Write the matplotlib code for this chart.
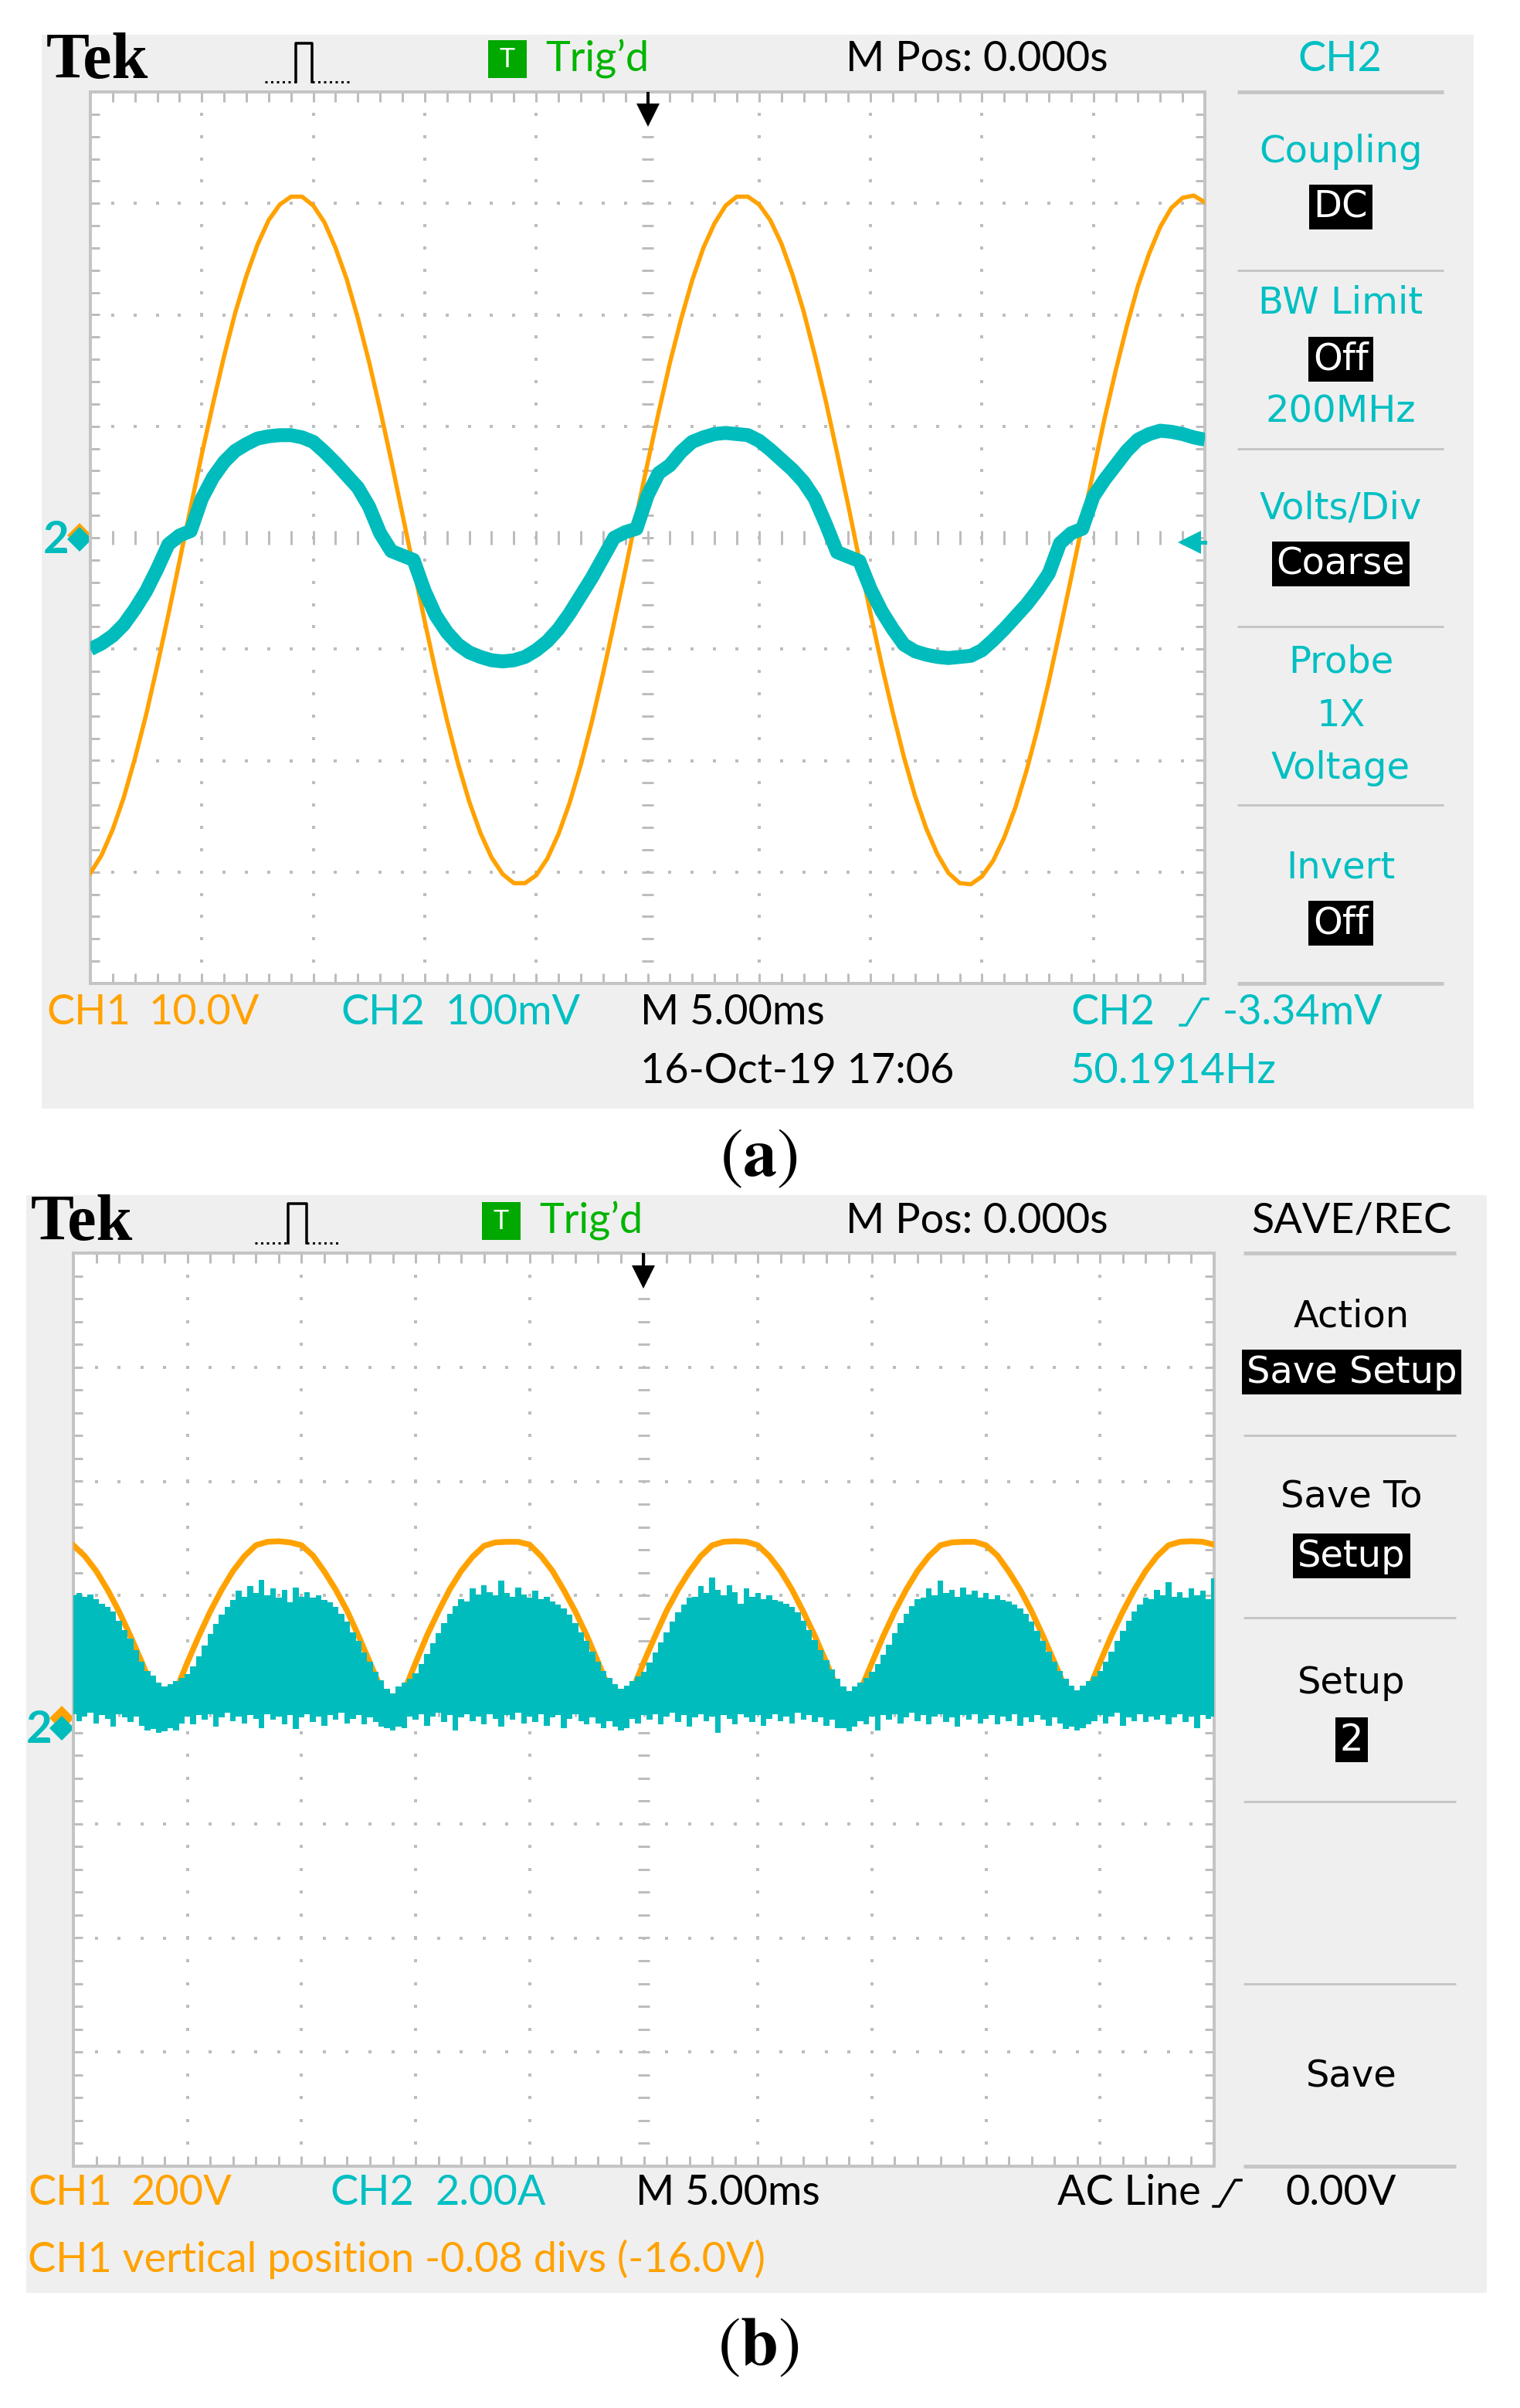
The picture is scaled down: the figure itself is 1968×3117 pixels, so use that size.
import numpy as np
import matplotlib.pyplot as plt
from matplotlib import font_manager as fm
from matplotlib.patches import Rectangle

W, H, DPI = 1968, 3117, 100
plt.rcParams['mathtext.fontset'] = 'stix'

# ---------------- data read off the two screen shots ----------------
# (a)  M 5.00 ms/div, CH1 10.0 V/div, CH2 100 mV/div
t_a = np.linspace(-25, 25, 101)          # ms, one sample every 0.1 div
ch1_a = [-30.1, -28.5, -26.2, -23.3, -19.8, -15.9, -11.5, -6.9, -2.1, 2.7,
         7.5, 12.0, 16.3, 20.2, 23.5, 26.3, 28.5, 29.9, 30.6, 30.6,
         29.8, 28.3, 26.0, 23.2, 19.7, 15.8, 11.5, 6.9, 2.1, -2.7,
         -7.5, -12.1, -16.4, -20.3, -23.7, -26.5, -28.7, -30.2, -31.0, -31.0,
         -30.3, -28.8, -26.6, -23.8, -20.4, -16.5, -12.2, -7.6, -2.9, 2.0,
         6.7, 11.3, 15.7, 19.6, 23.1, 26.0, 28.2, 29.8, 30.6, 30.6,
         29.9, 28.5, 26.4, 23.6, 20.3, 16.4, 12.2, 7.6, 2.9, -2.0,
         -6.8, -11.4, -15.7, -19.7, -23.2, -26.1, -28.4, -30.1, -31.0, -31.1,
         -30.4, -29.0, -26.9, -24.2, -20.9, -17.1, -12.9, -8.3, -3.6, 1.2,
         6.0, 10.7, 15.0, 19.0, 22.6, 25.5, 27.9, 29.6, 30.5, 30.7,
         30.1]                               # V
ch2_a = [-100, -95, -88, -78, -64, -48, -28, -6, 2, 6,
         35, 54, 68, 78, 84, 89, 91, 92, 92, 90,
         86, 77, 67, 56, 45, 28, 4, -12, -16, -20,
         -48, -70, -85, -96, -103, -107, -110, -111, -110, -107,
         -101, -93, -82, -68, -52, -36, -18, 0, 5, 8,
         38, 58, 65, 77, 86, 90, 93, 94, 93, 92,
         87, 79, 70, 61, 50, 35, 12, -13, -17, -21,
         -46, -66, -82, -96, -102, -105, -107, -108, -107, -106,
         -101, -92, -82, -71, -60, -47, -32, -5, 4, 8,
         37, 52, 65, 78, 88, 93, 96, 95, 93, 90,
         88]                                 # mV

# (b)  M 5.00 ms/div, CH1 200 V/div (position -0.08 div), CH2 2.00 A/div
t_b = np.linspace(-25, 25, 101)
ch1_b = [304, 285, 259, 226, 188, 145, 99, 50, 0, 50,
         99, 145, 188, 226, 259, 285, 304, 310, 311, 309,
         304, 286, 258, 226, 189, 145, 98, 51, 1, 49,
         98, 146, 188, 227, 259, 284, 303, 309, 310, 310,
         305, 285, 259, 225, 188, 146, 99, 50, 0, 50,
         99, 145, 189, 226, 258, 285, 304, 310, 311, 310,
         304, 285, 259, 226, 187, 145, 99, 50, 1, 50,
         98, 145, 188, 226, 259, 285, 304, 309, 310, 310,
         304, 286, 258, 226, 188, 145, 99, 51, 0, 50,
         99, 146, 188, 226, 259, 285, 304, 310, 311, 310,
         305]                                # V
t_b_fine = np.linspace(-25, 25, 201)     # one sample every 0.05 div
ch2_b_top = [2.30, 2.34, 2.28, 2.32, 2.24, 2.16, 2.10, 2.02, 1.86, 1.70,
             1.54, 1.34, 1.14, 0.98, 0.90, 0.78, 0.70, 0.74, 0.80, 0.86,
             0.92, 1.06, 1.24, 1.42, 1.62, 1.80, 1.96, 2.10, 2.22, 2.38,
             2.28, 2.46, 2.34, 2.58, 2.30, 2.42, 2.26, 2.40, 2.18, 2.44,
             2.28, 2.36, 2.26, 2.30, 2.22, 2.18, 2.10, 1.98, 1.84, 1.66,
             1.50, 1.30, 1.14, 0.96, 0.82, 0.66, 0.58, 0.70, 0.78, 0.84,
             0.94, 1.10, 1.28, 1.46, 1.64, 1.82, 1.98, 2.12, 2.24, 2.20,
             2.42, 2.32, 2.48, 2.36, 2.30, 2.56, 2.34, 2.28, 2.44, 2.32,
             2.26, 2.38, 2.24, 2.28, 2.20, 2.14, 2.08, 1.96, 1.82, 1.66,
             1.50, 1.32, 1.14, 0.98, 0.86, 0.74, 0.66, 0.72, 0.80, 0.88,
             0.96, 1.12, 1.30, 1.48, 1.66, 1.84, 2.00, 2.14, 2.26, 2.28,
             2.46, 2.34, 2.62, 2.40, 2.30, 2.48, 2.36, 2.16, 2.42, 2.28,
             2.34, 2.24, 2.30, 2.22, 2.20, 2.16, 2.10, 2.00, 1.86, 1.70,
             1.52, 1.34, 1.16, 1.00, 0.84, 0.70, 0.62, 0.70, 0.78, 0.86,
             0.96, 1.10, 1.26, 1.44, 1.64, 1.82, 1.98, 2.12, 2.24, 2.26,
             2.42, 2.30, 2.56, 2.34, 2.40, 2.28, 2.44, 2.32, 2.38, 2.26,
             2.34, 2.24, 2.30, 2.22, 2.20, 2.14, 2.08, 1.98, 1.84, 1.68,
             1.50, 1.32, 1.14, 0.98, 0.84, 0.72, 0.64, 0.72, 0.80, 0.88,
             0.98, 1.14, 1.32, 1.50, 1.68, 1.86, 2.02, 2.14, 2.26, 2.24,
             2.40, 2.30, 2.54, 2.28, 2.36, 2.26, 2.42, 2.30, 2.38, 2.24,
             2.60]                           # A, upper edge of the noisy band
ch2_b_bot = [0.22, 0.10, 0.18, 0.24, 0.06, 0.20, 0.14, 0.00, 0.22, 0.16,
             0.08, 0.18, 0.02, -0.06, -0.04, -0.10, -0.08, -0.02, -0.06, 0.06,
             0.18, 0.04, 0.20, 0.12, 0.22, 0.00, 0.16, 0.24, 0.10, 0.18,
             0.06, 0.20, 0.14, -0.02, 0.22, 0.12, 0.18, 0.04, 0.20, -0.04,
             0.16, 0.22, 0.08, 0.18, 0.02, 0.20, 0.12, 0.24, 0.06, 0.14,
             0.20, 0.04, 0.16, 0.08, 0.00, -0.02, -0.06, 0.00, -0.02, 0.18,
             0.12, 0.22, 0.02, 0.18, 0.24, 0.08, 0.20, -0.06, 0.16, 0.22,
             0.10, 0.18, 0.04, 0.22, 0.14, 0.00, 0.20, 0.12, 0.24, 0.06,
             0.18, 0.08, 0.22, 0.02, 0.16, 0.20, -0.02, 0.14, 0.22, 0.10,
             0.04, 0.16, 0.06, -0.02, 0.10, 0.00, -0.06, -0.02, 0.14, 0.06,
             0.20, 0.12, 0.22, 0.04, 0.18, 0.24, 0.08, 0.20, 0.00, 0.16,
             0.22, 0.10, 0.18, -0.10, 0.20, 0.14, 0.04, 0.22, 0.16, 0.08,
             0.20, 0.02, 0.14, 0.22, 0.10, 0.18, 0.06, 0.24, 0.12, 0.20,
             0.08, 0.16, 0.02, 0.12, -0.02, -0.02, -0.08, 0.00, 0.10, 0.04,
             0.18, -0.06, 0.20, 0.12, 0.22, 0.06, 0.16, 0.24, 0.10, 0.20,
             0.04, 0.18, 0.22, 0.08, 0.16, 0.00, 0.20, 0.12, 0.22, 0.06,
             0.14, 0.20, 0.04, 0.18, 0.10, 0.22, 0.02, 0.16, 0.08, 0.20,
             0.12, 0.02, 0.16, 0.06, -0.04, 0.00, -0.06, -0.02, 0.04, 0.10,
             0.20, 0.06, 0.18, 0.24, 0.02, 0.16, 0.10, 0.22, 0.08, 0.18,
             0.12, 0.20, 0.04, 0.16, 0.22, 0.08, 0.18, -0.02, 0.20, 0.14,
             0.18]                           # A, lower edge

MS_DIV = 5.0
CH1A_DIV, CH2A_DIV = 10.0, 100.0
CH1B_DIV, CH1B_POS = 200.0, -0.08
CH2B_DIV, CH2B_POS = 2.0, -0.15

# ---------------- style ----------------
ORANGE = '#ffa200'
TEAL = '#00bcbc'
TEAL_TXT = '#00bfc2'
GREEN = '#00b400'
PANEL = '#efefef'
GRID = '#bdbdbd'
BORDER = '#c4c4c4'


def px(v):
    return v * 72.0 / DPI


def has_font(name):
    try:
        fm.findfont(fm.FontProperties(family=name), fallback_to_default=False)
        return True
    except ValueError:
        return False


if has_font('Liberation Sans Narrow'):
    NARROW, NSZ = 'Liberation Sans Narrow', px(64)
else:
    NARROW, NSZ = 'Lato', px(54)
MENU, MSZ = 'DejaVu Sans', px(48)

fig = plt.figure(figsize=(W / DPI, H / DPI), dpi=DPI)
bg = fig.add_axes([0, 0, 1, 1])
bg.set_xlim(0, W)
bg.set_ylim(H, 0)
bg.axis('off')


def txt(x, y, s, color='black', size=NSZ, family=NARROW, ha='left', **kw):
    bg.text(x, y, s, color=color, fontsize=size, family=family, ha=ha,
            va='center', **kw)


def boxed(x, y, s, size=MSZ):
    bg.text(x, y, s, color='white', fontsize=size, family=MENU, ha='center',
            va='center', bbox=dict(facecolor='black', edgecolor='none',
                                   boxstyle='square,pad=0.12'))


def scope_axes(l, t, r, b):
    ax = fig.add_axes([l / W, 1 - b / H, (r - l) / W, (b - t) / H])
    ax.set_xlim(-5, 5)
    ax.set_ylim(-4, 4)
    ax.set_xticks([])
    ax.set_yticks([])
    for s in ax.spines.values():
        s.set_color(BORDER)
        s.set_linewidth(px(4))
    mx = np.arange(-5, 5.001, 0.2)
    my = np.arange(-4, 4.001, 0.2)
    for xv in [-4, -3, -2, -1, 1, 2, 3, 4]:
        ax.plot(np.full(my.size, xv), my, ls='none', marker='s', ms=px(3.5),
                mew=0, color=GRID, zorder=1)
    for yv in [-3, -2, -1, 1, 2, 3]:
        ax.plot(mx, np.full(mx.size, yv), ls='none', marker='s', ms=px(3.5),
                mew=0, color=GRID, zorder=1)
    kw = dict(color=GRID, lw=px(3), zorder=1)
    ax.vlines(mx, -0.06, 0.06, **kw)
    ax.hlines(my, -0.05, 0.05, **kw)
    ax.vlines(mx, 3.91, 4, **kw)
    ax.vlines(mx, -4, -3.91, **kw)
    ax.hlines(my, -5, -4.92, **kw)
    ax.hlines(my, 4.92, 5, **kw)
    return ax


def header(y, tek_x, pulse, box_x, trig_x, right_txt, right_col, right_x):
    txt(tek_x, y + 4, 'Tek', family='Liberation Serif', size=px(84),
        weight='bold')
    x0, x1, x2, x3, top, bot = pulse
    bg.plot([x0, x1], [bot, bot], color='k', lw=px(3), ls=(0, (1, 1.5)))
    bg.plot([x1, x1, x2, x2], [bot, top, top, bot], color='k', lw=px(3.5))
    bg.plot([x2, x3], [bot, bot], color='k', lw=px(3), ls=(0, (1, 1.5)))
    bg.add_patch(Rectangle((box_x, y - 24), 50, 49, color='#00a800', lw=0))
    txt(box_x + 25, y + 1, 'T', color='white', size=px(34), ha='center')
    txt(trig_x, y, 'Trig\u2019d', color=GREEN)
    txt(1095, y, 'M Pos: 0.000s')
    txt(right_x, y, right_txt, color=right_col, ha='center')


def menu_lines(x0, x1, ys):
    for i, yy in enumerate(ys):
        lw = 5 if i in (0, len(ys) - 1) else 3
        bg.plot([x0, x1], [yy, yy], color='#c6c6c6', lw=px(lw),
                solid_capstyle='butt')


def slope(x, y, color):
    bg.plot([x, x + 8, x + 28, x + 36], [y + 17, y + 17, y - 17, y - 17],
            color=color, lw=px(3.5))


def trig_arrow(ax, tip):
    ax.plot([0, 0], [4, tip + 0.12], color='k', lw=px(4), zorder=6)
    ax.plot(0, tip + 0.09, marker='v', ms=px(30), color='k', mew=0, zorder=6)


# ================= panel (a) =================
bg.add_patch(Rectangle((54, 45), 1854, 1390, color=PANEL, lw=0))
header(76, 60, (343, 383, 404, 452, 56, 106), 632, 706, 'CH2', TEAL_TXT, 1735)

ax_a = scope_axes(117, 119, 1560, 1273)
ax_a.plot(t_a / MS_DIV, np.array(ch1_a) / CH1A_DIV, color=ORANGE,
          lw=px(5.5), zorder=3)
ax_a.plot(t_a / MS_DIV, np.array(ch2_a) / CH2A_DIV, color=TEAL, lw=px(18),
          zorder=4, solid_joinstyle='round', solid_capstyle='butt')
trig_arrow(ax_a, 3.70)
ax_a.plot([4.84, 5.0], [-0.04, -0.04], color=TEAL, lw=px(5), zorder=6,
          clip_on=False)
ax_a.plot(4.86, -0.04, marker='<', ms=px(30), color=TEAL, mew=0, zorder=6,
          clip_on=False)

# channel ground markers (CH1 marker sits just behind the CH2 one)
bg.plot(103, 693, marker='D', ms=px(22), color=ORANGE, mew=0)
txt(73, 700, '2', color=TEAL, size=px(58), ha='center', weight='bold')
bg.plot(103, 698, marker='D', ms=px(22), color=TEAL, mew=0)

# right menu
menu_lines(1602, 1869, [119, 350, 581, 811, 1042, 1273])
mx_a = 1736
txt(mx_a, 197, 'Coupling', color=TEAL_TXT, size=MSZ, family=MENU, ha='center')
boxed(mx_a, 268, 'DC')
txt(mx_a, 392, 'BW Limit', color=TEAL_TXT, size=MSZ, family=MENU, ha='center')
boxed(mx_a, 465, 'Off')
txt(mx_a, 533, '200MHz', color=TEAL_TXT, size=MSZ, family=MENU, ha='center')
txt(mx_a, 658, 'Volts/Div', color=TEAL_TXT, size=MSZ, family=MENU, ha='center')
boxed(mx_a, 730, 'Coarse')
txt(mx_a, 857, 'Probe', color=TEAL_TXT, size=MSZ, family=MENU, ha='center')
txt(mx_a, 926, '1X', color=TEAL_TXT, size=MSZ, family=MENU, ha='center')
txt(mx_a, 994, 'Voltage', color=TEAL_TXT, size=MSZ, family=MENU, ha='center')
txt(mx_a, 1123, 'Invert', color=TEAL_TXT, size=MSZ, family=MENU, ha='center')
boxed(mx_a, 1195, 'Off')

# bottom status
txt(60, 1310, 'CH1', color=ORANGE)
txt(193, 1310, '10.0V', color=ORANGE)
txt(441, 1310, 'CH2', color=TEAL_TXT)
txt(577, 1310, '100mV', color=TEAL_TXT)
txt(829, 1310, 'M 5.00ms')
txt(1386, 1310, 'CH2', color=TEAL_TXT)
slope(1528, 1310, TEAL_TXT)
txt(1790, 1310, '-3.34mV', color=TEAL_TXT, ha='right')
txt(829, 1386, '16-Oct-19 17:06')
txt(1386, 1386, '50.1914Hz', color=TEAL_TXT)

bg.text(982, 1501, r'($\mathbf{a}$)', fontsize=px(88), family='STIXGeneral',
        ha='center', va='center')

# ================= panel (b) =================
bg.add_patch(Rectangle((34, 1547), 1891, 1421, color=PANEL, lw=0))
header(1580, 40, (330, 373, 397, 440, 1558, 1609), 624, 698, 'SAVE/REC',
       'black', 1750)

ax_b = scope_axes(95, 1622, 1572, 2804)
ax_b.plot(t_b / MS_DIV, np.array(ch1_b) / CH1B_DIV + CH1B_POS, color=ORANGE,
          lw=px(7.5), zorder=3)
ax_b.fill_between(t_b_fine / MS_DIV,
                  np.array(ch2_b_bot) / CH2B_DIV + CH2B_POS,
                  np.array(ch2_b_top) / CH2B_DIV + CH2B_POS,
                  step='mid', color=TEAL, lw=0, zorder=4)
trig_arrow(ax_b, 3.70)

bg.plot(80, 2224, marker='D', ms=px(22), color=ORANGE, mew=0)
txt(51, 2239, '2', color=TEAL, size=px(58), ha='center', weight='bold')
bg.plot(80, 2237, marker='D', ms=px(22), color=TEAL, mew=0)

menu_lines(1610, 1885, [1622, 1858, 2094, 2332, 2568, 2804])
mx_b = 1750
txt(mx_b, 1704, 'Action', size=MSZ, family=MENU, ha='center')
boxed(mx_b, 1776, 'Save Setup')
txt(mx_b, 1938, 'Save To', size=MSZ, family=MENU, ha='center')
boxed(mx_b, 2014, 'Setup')
txt(mx_b, 2179, 'Setup', size=MSZ, family=MENU, ha='center')
boxed(mx_b, 2252, '2')
txt(mx_b, 2688, 'Save', size=MSZ, family=MENU, ha='center')

txt(36, 2839, 'CH1', color=ORANGE)
txt(169, 2839, '200V', color=ORANGE)
txt(427, 2839, 'CH2', color=TEAL_TXT)
txt(563, 2839, '2.00A', color=TEAL_TXT)
txt(823, 2839, 'M 5.00ms')
txt(1555, 2839, 'AC Line', ha='right')
slope(1571, 2839, 'black')
txt(1808, 2839, '0.00V', ha='right')
txt(36, 2924, 'CH1 vertical position -0.08 divs (-16.0V)', color=ORANGE)

bg.text(982, 3040, r'($\mathbf{b}$)', fontsize=px(88), family='STIXGeneral',
        ha='center', va='center')

fig.savefig('out.png', dpi=DPI, facecolor='white')
